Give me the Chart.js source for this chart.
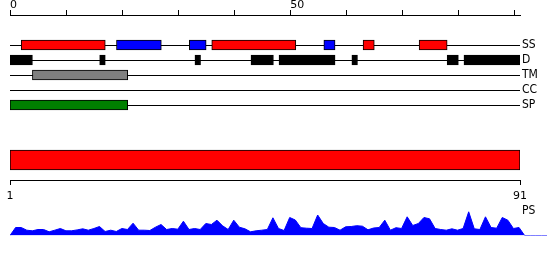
<!DOCTYPE html>
<html lang="en">
<head>
<meta charset="UTF-8">
<title>Sequence feature tracks</title>
<script src="https://cdn.jsdelivr.net/npm/chart.js@4.4.0/dist/chart.umd.min.js"></script>
<style>
    html, body { margin: 0; padding: 0; background: #fff; }
    #wrap { position: relative; width: 550px; height: 260px; overflow: hidden; }
    #wrap canvas { position: absolute; left: 0; }
    #psLabel {
        position: absolute; left: 522px; top: 203px; color: #000;
        font: 12px 'Liberation Sans Narrow', 'DejaVu Sans Condensed', 'DejaVu Sans', sans-serif;
    }
</style>
</head>
<body>
<div id="wrap">
    <canvas id="axisTop" width="550" height="20" style="top:0"></canvas>
    <canvas id="tracks" width="550" height="90" style="top:30px"></canvas>
    <canvas id="seqBar" width="550" height="70" style="top:140px"></canvas>
    <canvas id="psChart" width="550" height="40" style="top:200px"></canvas>
    <div id="psLabel">PS</div>
</div>

<script>
    // data
    const seqLength = 91;
    const topTickLabels = [0, 50];
    const trackNames = ['SS', 'D', 'TM', 'CC', 'SP'];
    const helixSegments = [[2, 17], [36, 51], [63, 65], [73, 78]];
    const strandSegments = [[19, 27], [32, 35], [56, 58]];
    const disorderSegments = [[0, 4], [16, 17], [33, 34], [43, 47], [48, 58], [61, 62], [78, 80], [81, 91]];
    const tmSegments = [[4, 21]];
    const ccSegments = [];
    const spSegments = [[0, 21]];
    const seqRange = [1, 91];
    const seqTickLabels = [1, 91];
    // PS profile, one value per residue position 0..96
    const psValues = [
        0, 8, 8, 5.3, 4.7, 6, 6, 3.7, 5.3, 7,
        4.7, 4.7, 5.6, 6.7, 5.3, 7, 9, 4, 5.3, 4,
        7, 6, 12.3, 5.3, 5.3, 5, 8.3, 11, 6, 7,
        6.3, 14.3, 6, 7, 6, 12, 11, 15.3, 9.7, 6,
        15.3, 8.3, 6.7, 3.7, 4.7, 5.3, 6, 17.7, 7, 5,
        18, 15.5, 7.8, 7.3, 7, 20.5, 12, 8.3, 8, 5.3,
        8.7, 9, 9.8, 9.3, 5.7, 7.5, 8, 15.3, 5.3, 7.8,
        7, 18.7, 10, 12, 18, 16.7, 7, 6, 5.3, 6.7,
        5.3, 7, 23.7, 6.7, 6, 18.7, 8, 7.3, 18, 15.3,
        7, 8, 0, 0, 0, 0, 0
    ];

    const numFont = { family: 'DejaVu Sans', size: 11 };
    const labelFont = { family: "'Liberation Sans Narrow', 'DejaVu Sans Condensed', 'DejaVu Sans'", size: 12 };

    const common = {
        responsive: false,
        animation: false,
        devicePixelRatio: 1,
        plugins: { legend: { display: false }, tooltip: { enabled: false }, title: { display: false } }
    };

    // top ruler
    new Chart(document.getElementById('axisTop'), {
        type: 'line',
        data: { datasets: [] },
        options: {
            ...common,
            layout: { padding: { left: 10, right: 30, top: 0, bottom: 0 } },
            scales: {
                x: {
                    type: 'linear', position: 'top', min: 0, max: seqLength,
                    afterFit: s => { s.height = 15; s.paddingLeft = 0; s.paddingRight = 0; },
                    border: { color: '#000', width: 1 },
                    grid: { drawOnChartArea: false, color: '#000', tickLength: 5 },
                    ticks: {
                        stepSize: 10, includeBounds: false, autoSkip: false, maxRotation: 0,
                        align: 'start', padding: 0, color: '#000',
                        font: { ...numFont, lineHeight: 0.8 },
                        callback: v => topTickLabels.includes(v) ? String(v) : ''
                    }
                },
                y: { display: false }
            }
        }
    });

    // feature tracks
    function segData(segs, track) {
        return segs.map(s => ({ x: s, y: track }));
    }
    const trackSets = [
        { data: segData(helixSegments, 'SS'), backgroundColor: '#ff0000' },
        { data: segData(strandSegments, 'SS'), backgroundColor: '#0000ff' },
        { data: segData(disorderSegments, 'D'), backgroundColor: '#000000' },
        { data: segData(tmSegments, 'TM'), backgroundColor: '#808080' },
        { data: segData(ccSegments, 'CC'), backgroundColor: '#ffff00' },
        { data: segData(spSegments, 'SP'), backgroundColor: '#008000' }
    ].map(d => ({ ...d, borderColor: '#000', borderWidth: 1, borderSkipped: false, barThickness: 10, grouped: false }));

    new Chart(document.getElementById('tracks'), {
        type: 'bar',
        data: { labels: trackNames, datasets: trackSets },
        options: {
            ...common,
            indexAxis: 'y',
            layout: { padding: { left: 10, right: 0, top: 7.5, bottom: 7.5 } },
            scales: {
                x: { type: 'linear', min: 0, max: seqLength, display: false },
                y: {
                    type: 'category', position: 'right',
                    // fixed width, and no extra room for half-labels so rows sit 15px apart
                    afterFit: s => { s.width = 30; s.paddingTop = 0; s.paddingBottom = 0; },
                    border: { display: false },
                    grid: { offset: false, color: '#000', drawTicks: false },
                    ticks: { padding: 2, color: '#000', font: labelFont, autoSkip: false }
                }
            }
        }
    });

    // full sequence bar with its ruler
    new Chart(document.getElementById('seqBar'), {
        type: 'bar',
        data: {
            labels: ['seq'],
            datasets: [{
                data: [seqRange], backgroundColor: '#ff0000', borderColor: '#000',
                borderWidth: 1, borderSkipped: false, barThickness: 20
            }]
        },
        options: {
            ...common,
            indexAxis: 'y',
            layout: { padding: { left: 10, right: 30, top: 0, bottom: 0 } },
            scales: {
                x: {
                    type: 'linear', min: seqRange[0], max: seqRange[1],
                    afterFit: s => { s.height = 30; s.paddingLeft = 0; s.paddingRight = 0; },
                    afterBuildTicks: s => { s.ticks = seqTickLabels.map(v => ({ value: v })); },
                    border: { color: '#000', width: 1 },
                    grid: { drawOnChartArea: false, color: '#000', tickLength: 5 },
                    ticks: { padding: 5, color: '#000', font: numFont, maxRotation: 0, autoSkip: false }
                },
                y: { display: false }
            }
        }
    });

    // PS profile
    new Chart(document.getElementById('psChart'), {
        type: 'line',
        data: {
            datasets: [{
                data: psValues.map((v, i) => ({ x: i, y: v })),
                borderColor: '#0000ff', backgroundColor: '#0000ff', borderWidth: 1,
                pointRadius: 0, fill: 'origin', tension: 0
            }]
        },
        options: {
            ...common,
            layout: { padding: { left: 10, right: 3, top: 10.5, bottom: 4.5 } },
            scales: {
                x: { type: 'linear', min: 0, max: psValues.length - 1, display: false },
                y: { min: 0, max: 25, display: false }
            }
        }
    });
</script>
</body>
</html>
